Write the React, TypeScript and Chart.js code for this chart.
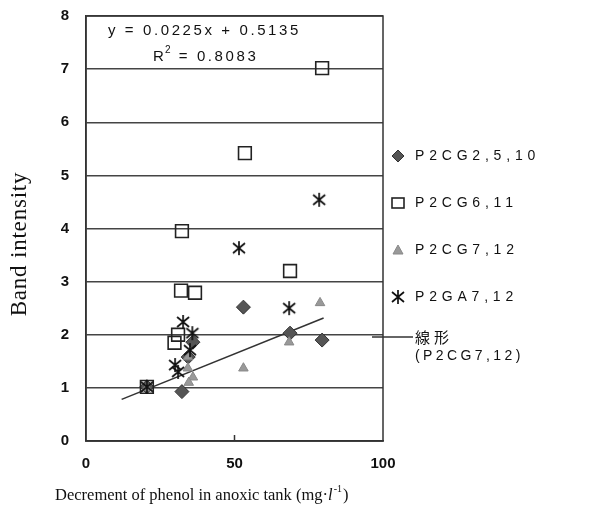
import React, { useEffect, useRef } from 'react';
import { Chart, registerables } from 'chart.js';
Chart.register(...registerables);

const xTickValues = [0, 50, 100];
const yTickValues = [0, 1, 2, 3, 4, 5, 6, 7, 8];

const seriesNames = ['P2CG2,5,10', 'P2CG6,11', 'P2CG7,12', 'P2GA7,12'];
const trendName = ['線形', '(P2CG7,12)'];

const diamondX = [20.5, 32.3, 34.4, 36.0, 53.0, 68.7, 79.5];
const diamondY = [1.02, 0.93, 1.58, 1.86, 2.52, 2.03, 1.9];

const squareX = [20.5, 29.8, 31.0, 32.0, 32.3, 36.7, 53.5, 68.7, 79.5];
const squareY = [1.02, 1.85, 2.0, 2.83, 3.95, 2.79, 5.42, 3.2, 7.02];

const triangleX = [20.5, 34.3, 34.3, 36.0, 34.6, 53.0, 68.4, 78.8];
const triangleY = [1.0, 1.58, 1.37, 1.2, 1.1, 1.37, 1.86, 2.6];

const asteriskX = [20.5, 30.0, 31.0, 35.0, 35.8, 32.7, 51.5, 68.4, 78.5];
const asteriskY = [1.02, 1.43, 1.3, 1.71, 2.03, 2.24, 3.63, 2.5, 4.54];

const trendSlope = 0.0225;
const trendIntercept = 0.5135;
const trendXRange = [12, 80];
const equationText = 'y = 0.0225x + 0.5135';
const r2Value = '0.8083';

function makeAsterisk(): HTMLCanvasElement {
  const c = document.createElement('canvas');
  c.width = 16;
  c.height = 16;
  const g = c.getContext('2d')!;
  g.strokeStyle = '#111';
  g.lineWidth = 1.7;
  g.beginPath();
  g.moveTo(8, 1);
  g.lineTo(8, 15);
  g.moveTo(2, 3);
  g.lineTo(14, 13);
  g.moveTo(14, 3);
  g.lineTo(2, 13);
  g.stroke();
  return c;
}

export default function App() {
  const ref = useRef<HTMLCanvasElement>(null);
  useEffect(() => {
    const asterisk = makeAsterisk();
    const pts = (xs: number[], ys: number[]) => xs.map((x, i) => ({ x, y: ys[i] }));
    const trendPts = trendXRange.map((x) => ({ x, y: trendSlope * x + trendIntercept }));
    const sans = '"Liberation Sans", Arial, sans-serif';
    const serif = '"Liberation Serif", "Times New Roman", serif';

    const overlay = {
      id: 'overlay',
      afterDraw(chart: any) {
        const ctx = chart.ctx as CanvasRenderingContext2D;
        const a = chart.chartArea;
        const xs = chart.scales.x;
        ctx.save();
        // plot frame
        ctx.strokeStyle = '#333';
        ctx.lineWidth = 1.5;
        ctx.strokeRect(a.left, a.top, a.right - a.left, a.bottom - a.top);
        // inner tick at 50
        const px = xs.getPixelForValue(50);
        ctx.beginPath();
        ctx.moveTo(px, a.bottom);
        ctx.lineTo(px, a.bottom - 6);
        ctx.stroke();

        // equation
        ctx.fillStyle = '#111';
        ctx.font = '15px ' + sans;
        (ctx as any).letterSpacing = '2.6px';
        ctx.textBaseline = 'middle';
        ctx.textAlign = 'left';
        ctx.fillText(equationText, 108, 31);
        ctx.fillText('R', 153, 57);
        ctx.font = '10px ' + sans;
        (ctx as any).letterSpacing = '0px';
        ctx.fillText('2', 165, 50);
        ctx.font = '15px ' + sans;
        (ctx as any).letterSpacing = '2.6px';
        ctx.fillText(' = ' + r2Value, 172, 57);

        // legend
        const lx = 398;
        const rows = [156, 203, 250, 297];
        ctx.font = '14px ' + sans;
        (ctx as any).letterSpacing = '4.8px';
        seriesNames.forEach((n, i) => ctx.fillText(n, 415, rows[i]));
        // diamond
        ctx.fillStyle = '#555';
        ctx.strokeStyle = '#333';
        ctx.lineWidth = 1;
        ctx.beginPath();
        ctx.moveTo(lx, rows[0] - 6);
        ctx.lineTo(lx + 6, rows[0]);
        ctx.lineTo(lx, rows[0] + 6);
        ctx.lineTo(lx - 6, rows[0]);
        ctx.closePath();
        ctx.fill();
        ctx.stroke();
        // square
        ctx.fillStyle = '#fff';
        ctx.strokeStyle = '#222';
        ctx.lineWidth = 1.6;
        ctx.fillRect(lx - 6, rows[1] - 5, 12, 10);
        ctx.strokeRect(lx - 6, rows[1] - 5, 12, 10);
        // triangle
        ctx.fillStyle = '#999';
        ctx.strokeStyle = '#888';
        ctx.lineWidth = 1;
        ctx.beginPath();
        ctx.moveTo(lx, rows[2] - 5);
        ctx.lineTo(lx + 5, rows[2] + 4);
        ctx.lineTo(lx - 5, rows[2] + 4);
        ctx.closePath();
        ctx.fill();
        ctx.stroke();
        // asterisk
        ctx.drawImage(asterisk, lx - 8, rows[3] - 8);
        // trend line legend
        ctx.strokeStyle = '#333';
        ctx.lineWidth = 1.6;
        ctx.beginPath();
        ctx.moveTo(372, 337);
        ctx.lineTo(413, 337);
        ctx.stroke();
        ctx.fillStyle = '#111';
        ctx.font = '15px "Noto Sans CJK JP", sans-serif';
        (ctx as any).letterSpacing = '4px';
        ctx.fillText(trendName[0], 415, 337);
        ctx.font = '14px ' + sans;
        (ctx as any).letterSpacing = '3.4px';
        ctx.fillText(trendName[1], 415, 356);

        // axis titles
        ctx.font = '23px ' + serif;
        (ctx as any).letterSpacing = '0.8px';
        ctx.save();
        ctx.translate(20, 244);
        ctx.rotate(-Math.PI / 2);
        ctx.textAlign = 'center';
        ctx.fillText('Band intensity', 0, 0);
        ctx.restore();

        (ctx as any).letterSpacing = '0px';
        ctx.textAlign = 'left';
        ctx.font = '16.5px ' + serif;
        let tx = 55;
        const ty = 496;
        const p1 = 'Decrement of phenol in anoxic tank (mg\u00b7';
        ctx.fillText(p1, tx, ty);
        tx += ctx.measureText(p1).width;
        ctx.font = 'italic 16.5px ' + serif;
        ctx.fillText('l', tx, ty);
        tx += ctx.measureText('l').width + 1;
        ctx.font = '10px ' + serif;
        ctx.fillText('-1', tx, ty - 7);
        tx += ctx.measureText('-1').width + 1;
        ctx.font = '16.5px ' + serif;
        ctx.fillText(')', tx, ty);
        ctx.restore();
      },
    };

    const tickFont = { family: '"Liberation Sans Narrow", "Liberation Sans", Arial, sans-serif', size: 15, weight: 'bold' as const };

    const chart = new Chart(ref.current!, {
      type: 'scatter',
      data: {
        datasets: [
          {
            label: 'trend',
            type: 'line',
            data: trendPts,
            borderColor: '#333',
            borderWidth: 1.6,
            pointRadius: 0,
            showLine: true,
            fill: false,
            order: 5,
          } as any,
          {
            label: seriesNames[0],
            data: pts(diamondX, diamondY),
            pointStyle: 'rectRot',
            pointRadius: 7,
            backgroundColor: '#555',
            borderColor: '#333',
            borderWidth: 1,
            order: 4,
          },
          {
            label: seriesNames[1],
            data: pts(squareX, squareY),
            pointStyle: 'rect',
            pointRadius: 9,
            backgroundColor: 'rgba(255,255,255,0)',
            borderColor: '#222',
            borderWidth: 1.6,
            order: 3,
          },
          {
            label: seriesNames[2],
            data: pts(triangleX, triangleY),
            pointStyle: 'triangle',
            pointRadius: 5.5,
            backgroundColor: '#999',
            borderColor: '#888',
            borderWidth: 1,
            order: 2,
          },
          {
            label: seriesNames[3],
            data: pts(asteriskX, asteriskY),
            pointStyle: asterisk,
            pointRadius: 8,
            order: 1,
          },
        ],
      },
      options: {
        animation: false,
        responsive: false,
        maintainAspectRatio: false,
        layout: { padding: { top: 16, right: 208, left: 0, bottom: 0 } },
        plugins: { legend: { display: false }, tooltip: { enabled: false }, title: { display: false } },
        scales: {
          x: {
            type: 'linear',
            min: 0,
            max: 100,
            afterBuildTicks: (s: any) => {
              s.ticks = xTickValues.map((v) => ({ value: v }));
            },
            afterFit: (s: any) => {
              s.height = 67;
              s.paddingLeft = 0;
              s.paddingRight = 0;
            },
            grid: { display: false, drawTicks: false },
            border: { display: true, color: '#333', width: 1.5 },
            ticks: { padding: 14, font: tickFont, color: '#111', maxRotation: 0 },
          },
          y: {
            type: 'linear',
            min: 0,
            max: 8,
            afterBuildTicks: (s: any) => {
              s.ticks = yTickValues.map((v) => ({ value: v }));
            },
            afterFit: (s: any) => {
              s.width = 86;
              s.paddingTop = 0;
              s.paddingBottom = 0;
            },
            grid: { color: '#444', lineWidth: 1.5, drawTicks: false },
            border: { display: true, color: '#333', width: 1.5 },
            ticks: { padding: 17, font: tickFont, color: '#111' },
          },
        },
      },
      plugins: [overlay],
    });
    return () => chart.destroy();
  }, []);

  return (
    <div style={{ position: 'fixed', left: 0, top: 0, width: 591, height: 508, background: '#fff' }}>
      <canvas ref={ref} width={591} height={508} style={{ width: 591, height: 508, display: 'block' }} />
    </div>
  );
}
